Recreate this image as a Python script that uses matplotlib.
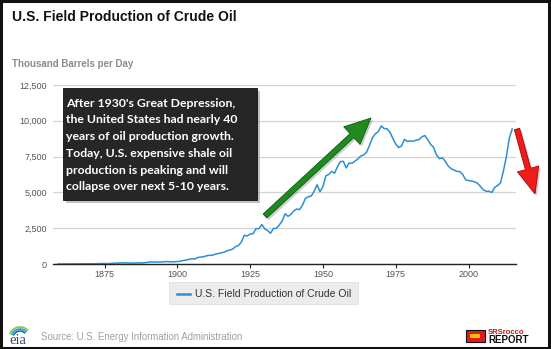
import numpy as np
import matplotlib
matplotlib.use("Agg")
import matplotlib.pyplot as plt
from matplotlib import patches
from matplotlib.transforms import IdentityTransform

# U.S. field production of crude oil, thousand barrels per day
years = list(range(1859, 2016))
production = [
    0, 1, 6, 8, 7, 6, 7, 10, 9, 10, 12,  # 1859-1869
    14, 14, 17, 27, 30, 34, 25, 37, 42, 55,  # 1870-1879
    72, 76, 83, 64, 66, 60, 77, 77, 76, 96,  # 1880-1889
    125, 148, 139, 133, 136, 145, 166, 166, 151, 156,  # 1890-1899
    174, 190, 243, 275, 321, 369, 345, 453, 489, 500,  # 1900-1909
    574, 605, 609, 681, 727, 770, 824, 919, 975, 1037,  # 1910-1919
    1214, 1294, 1531, 2007, 1958, 2092, 2112, 2469, 2462, 2760,  # 1920-1929
    2460, 2332, 2145, 2484, 2488, 2724, 3003, 3505, 3327, 3466,  # 1930-1939
    3707, 3842, 3798, 4125, 4584, 4695, 4751, 5088, 5535, 5046,  # 1940-1949
    5407, 6158, 6256, 6458, 6342, 6807, 7151, 7170, 6710, 7054,  # 1950-1959
    7035, 7183, 7332, 7542, 7614, 7804, 8295, 8810, 9096, 9238,  # 1960-1969
    9637, 9463, 9441, 9208, 8774, 8375, 8132, 8245, 8707, 8552,  # 1970-1979
    8597, 8572, 8649, 8688, 8879, 8971, 8680, 8349, 8140, 7613,  # 1980-1989
    7355, 7417, 7171, 6847, 6662, 6560, 6465, 6452, 6252, 5881,  # 1990-1999
    5822, 5801, 5744, 5649, 5441, 5184, 5086, 5077, 5000, 5353,  # 2000-2009
    5482, 5673, 6520, 7494, 8789, 9431,  # 2010-2015
]
x_ticks = [1875, 1900, 1925, 1950, 1975, 2000]
y_ticks = [0, 2500, 5000, 7500, 10000, 12500]

title = "U.S. Field Production of Crude Oil"
subtitle = "Thousand Barrels per Day"
series_name = "U.S. Field Production of Crude Oil"
source = "Source: U.S. Energy Information Administration"
note_lines = [
    "After 1930's Great Depression,",
    "the United States had nearly 40",
    "years of oil production growth.",
    "Today, U.S. expensive shale oil",
    "production is peaking and will",
    "collapse over next 5-10 years.",
]

W, H = 551, 349
LINE = "#2b8fd6"
plt.rcParams["font.family"] = ["Liberation Sans", "DejaVu Sans"]


def fx(x):
    return x / W


def fy(y):
    return 1 - y / H


fig = plt.figure(figsize=(W / 100, H / 100), dpi=100)
fig.patch.set_facecolor("white")
ax = fig.add_axes([fx(53), fy(264), fx(516) - fx(53), fy(85) - fy(264)])

ax.plot(years, production, color=LINE, lw=1.1, zorder=3)
ax.set_xlim(1857.3, 2016.3)
ax.set_ylim(0, 12500)
ax.set_xticks(x_ticks)
ax.set_yticks(y_ticks)
ax.set_yticklabels([f"{v:,}" for v in y_ticks])
ax.grid(axis="y", color="#d4d4d4", lw=0.9)
ax.set_axisbelow(True)
for s in ["top", "right", "left"]:
    ax.spines[s].set_visible(False)
ax.spines["bottom"].set_color("#222222")
ax.spines["bottom"].set_linewidth(1.0)
ax.spines["bottom"].set_zorder(4)
ax.tick_params(axis="x", length=3, width=0.8, color="#222222", pad=1.5,
               labelsize=6.5, labelcolor="#555555")
ax.tick_params(axis="y", length=0, pad=4.5, labelsize=6.5, labelcolor="#555555")

# titles
fig.text(fx(12), fy(17), title, fontsize=10, fontweight="bold", color="#111111",
         va="center", ha="left")
fig.text(fx(12), fy(64), subtitle, fontsize=7, fontweight="bold", color="#8c8c8c",
         va="center", ha="left")

# legend box
fig.patches.append(patches.Rectangle((fx(169), fy(304)), fx(358) - fx(169), fy(282) - fy(304),
                                     transform=fig.transFigure, facecolor="#ececec",
                                     edgecolor="#e0e0e0", lw=0.6))
fig.lines.append(plt.Line2D([fx(177), fx(190)], [fy(294), fy(294)], transform=fig.transFigure,
                            color=LINE, lw=1.8))
fig.text(fx(195), fy(294), series_name, fontsize=7.5, color="#333333", va="center", ha="left")

# source line
fig.text(fx(41), fy(337), source, fontsize=6.9, color="#a0a0a0", va="center", ha="left")

# annotation box with shadow
box_l, box_t, box_r, box_b = 63, 88, 257, 200
fig.patches.append(patches.Rectangle((fx(box_l + 3), fy(box_b + 3)), fx(box_r - box_l), fy(box_t) - fy(box_b),
                                     transform=fig.transFigure, facecolor="#9a9a9a",
                                     edgecolor="none", alpha=0.6, zorder=5))
fig.patches.append(patches.Rectangle((fx(box_l), fy(box_b)), fx(box_r - box_l), fy(box_t) - fy(box_b),
                                     transform=fig.transFigure, facecolor="#262626",
                                     edgecolor="#111111", lw=0.6, zorder=6))
for i, line in enumerate(note_lines):
    fig.text(fx(66), fy(103 + i * 16.8), line, fontsize=8.8, fontweight="bold",
             family=["Lato", "DejaVu Sans"], color="white", va="center", ha="left", zorder=7)


# arrows, in figure pixels (origin bottom-left)
def arrow(x0, y0, x1, y1, width, hw, hl, face, edge):
    a = patches.FancyArrow(x0, H - y0, x1 - x0, -(y1 - y0), width=width, head_width=hw,
                           head_length=hl, length_includes_head=True,
                           transform=IdentityTransform(), facecolor=face, edgecolor=edge,
                           lw=0.6, zorder=8)
    sh = patches.FancyArrow(x0 + 2, H - y0 - 2, x1 - x0, -(y1 - y0), width=width, head_width=hw,
                            head_length=hl, length_includes_head=True,
                            transform=IdentityTransform(), facecolor="#888888",
                            edgecolor="none", alpha=0.4, zorder=7)
    fig.patches.append(sh)
    fig.patches.append(a)


arrow(265, 216, 371, 118, 5.5, 24, 26, "#1f8a1f", "#0d5c0d")
arrow(517, 129, 535, 194, 5.5, 22, 26, "#ee1c1c", "#b00000")

# eia logo
fig.text(fx(18), fy(340), "eia", fontsize=10.5, family="Liberation Serif", color="#2d4a6b",
         va="center", ha="center")
for r, c in [(11, "#8cc63f"), (9, "#2a9fd6"), (7, "#0b6fb0")]:
    fig.patches.append(patches.Arc((fx(20), fy(338)), 2 * r / W, 2 * r / H, theta1=55, theta2=150,
                                   transform=fig.transFigure, color=c, lw=1.2))

# SRSrocco logo
fig.patches.append(patches.Rectangle((fx(466), fy(342)), fx(19), fy(330) - fy(342),
                                     transform=fig.transFigure, facecolor="#e01b1b",
                                     edgecolor="#111111", lw=0.8))
fig.patches.append(patches.Rectangle((fx(470), fy(338)), fx(10), fy(334) - fy(338),
                                     transform=fig.transFigure, facecolor="#f2c200",
                                     edgecolor="none"))
fig.text(fx(488), fy(332), "SRSrocco", fontsize=5.5, fontweight="bold", color="#c01818",
         va="center", ha="left")
fig.text(fx(488), fy(340), "REPORT", fontsize=7, fontweight="bold", color="#111111",
         va="center", ha="left")

# outer frame
fig.patches.append(patches.Rectangle((0.002, 0.003), 0.995, 0.994, transform=fig.transFigure,
                                     facecolor="none", edgecolor="#111111", lw=2.2, zorder=10))

fig.savefig("out.png", dpi=100, facecolor="white")
